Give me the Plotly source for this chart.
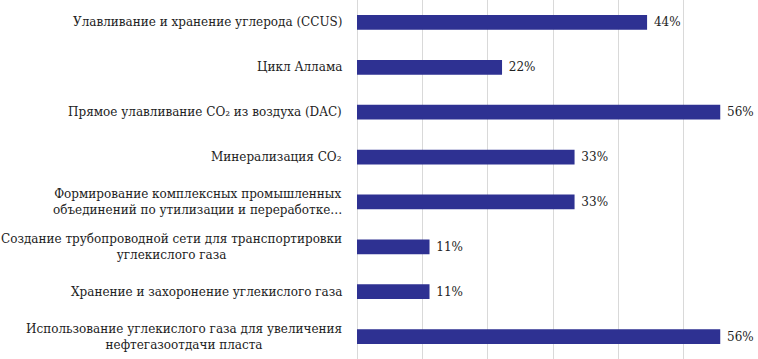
import plotly.graph_objects as go

categories = [
    "Улавливание и хранение углерода (CCUS)",
    "Цикл Аллама",
    "Прямое улавливание CO₂ из воздуха (DAC)",
    "Минерализация CO₂",
    "Формирование комплексных промышленных<br>объединений по утилизации и переработке…",
    "Создание трубопроводной сети для транспортировки<br>углекислого газа",
    "Хранение и захоронение углекислого газа",
    "Использование углекислого газа для увеличения<br>нефтегазоотдачи пласта",
]
values = [44.4, 22.2, 55.6, 33.3, 33.3, 11.1, 11.1, 55.6]

FONT = "DejaVu Serif"
FS = 12

fig = go.Figure()
fig.add_trace(go.Bar(
    x=values,
    y=list(range(len(categories))),
    orientation="h",
    marker=dict(color="#2E3192", line=dict(width=0)),
    width=0.33,
    texttemplate=" %{x:.0f}%",
    textposition="outside",
    textangle=0,
    cliponaxis=False,
    hoverinfo="skip",
    textfont=dict(family=FONT, size=FS, color="#222222"),
))

for i, c in enumerate(categories):
    fig.add_annotation(
        x=0, xref="paper", y=i, yref="y",
        text=c, showarrow=False,
        xanchor="right", align="center", xshift=-13,
        font=dict(family=FONT, size=FS, color="#222222"),
    )

fig.update_layout(
    width=758, height=359,
    margin=dict(l=357, r=9, t=0, b=0),
    paper_bgcolor="white", plot_bgcolor="white",
    showlegend=False,
    font=dict(family=FONT),
    xaxis=dict(range=[0, 60], dtick=10, showgrid=True, gridcolor="#d9d9d9",
               gridwidth=1, showticklabels=False, zeroline=True,
               zerolinecolor="#d9d9d9", zerolinewidth=1, showline=False),
    yaxis=dict(range=[7.5, -0.5], showticklabels=False, showgrid=False,
               zeroline=False, showline=False),
)

fig.write_html("out.html", config={"displayModeBar": False},
               post_script="document.body.style.margin='0';document.body.style.overflow='hidden';")
